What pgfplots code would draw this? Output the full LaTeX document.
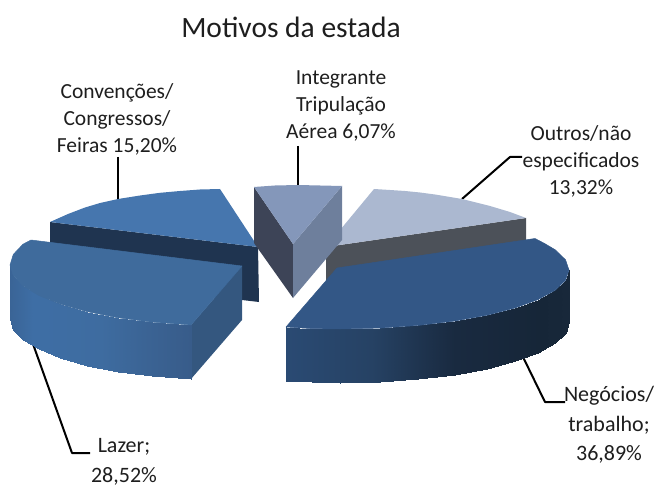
\documentclass[border=0pt]{standalone}
\usepackage{fontspec}
\setmainfont{Carlito}
\usepackage{pgfplots}
\pgfplotsset{compat=1.18}
\pgfplotsset{
  colormap={lazer}{rgb255(0)=(58,100,150) rgb255(1)=(62,110,165) rgb255(4)=(62,108,160) rgb255(8)=(56,92,138)},
  colormap={neg}{rgb255(0)=(42,74,115) rgb255(3)=(38,66,100) rgb255(6)=(25,42,64) rgb255(9)=(22,38,56) rgb255(10)=(24,40,58)}
}
\definecolor{txt}{RGB}{30,30,30}
\definecolor{cLaz}{RGB}{63,107,156}
\definecolor{cNeg}{RGB}{51,87,134}
\tikzset{lbl/.style={align=center, text=txt, font=\fontsize{21.5}{27}\selectfont, anchor=center},
 lblw/.style={align=center, text=txt, font=\fontsize{22}{29.5}\selectfont, anchor=center}}
\begin{document}
\begin{tikzpicture}
\begin{axis}[
  scale only axis, width=669pt, height=486pt,
  xmin=0, xmax=669, ymin=0, ymax=486, y dir=reverse,
  hide axis, clip=false,
  point meta min=0, point meta max=1,
  every axis plot/.append style={line join=round},
]
\addplot[draw=none, forget plot] coordinates {(0,0) (669,486)};
% leader lines
\addplot[black, line width=2pt] coordinates {(118,157) (118,200)};
\addplot[black, line width=2pt] coordinates {(298,146) (298,186)};
\addplot[black, line width=2pt] coordinates {(522,157) (510,157) (462,199)};
\addplot[black, line width=2pt] coordinates {(523,357) (545,402) (565,402)};
\addplot[black, line width=2pt] coordinates {(33,344) (72,453) (90,453)};
% Outros
\addplot[fill={rgb,255:red,76;green,81;blue,89}, draw=none] coordinates {(326,247) (526,218) (526,250) (326,300)} -- cycle;
\addplot[fill={rgb,255:red,171;green,184;blue,208}, draw=none] coordinates {(326,247) (374,189) (390,190) (405,191) (420,192.5) (435,194.5) (450,197) (462,199) (476,202.5) (490,206) (510,212) (526,218)} -- cycle;
% Convencoes
\addplot[fill={rgb,255:red,31;green,52;blue,80}, draw=none] coordinates {(50,222) (258,247) (259,302) (242,300) (50,280)} -- cycle;
\addplot[fill={rgb,255:red,70;green,118;blue,174}, draw=none] coordinates {(258,247) (220,189) (200,189.5) (180,191) (160,192.8) (140,195.5) (118,199) (100,203) (85,207.5) (68,214) (50,222)} -- cycle;
% Tripulacao
\addplot[fill={rgb,255:red,61;green,68;blue,87}, draw=none] coordinates {(254,187) (293,244) (293,298) (254,243)} -- cycle;
\addplot[fill={rgb,255:red,110;green,127;blue,156}, draw=none] coordinates {(342,186) (293,244) (293,298) (342,240)} -- cycle;
\addplot[fill={rgb,255:red,132;green,151;blue,186}, draw=none] coordinates {(254,187) (275,185.5) (298,185) (320,185.5) (342,186) (293,244)} -- cycle;
% Lazer
\addplot[fill={rgb,255:red,52;green,87;blue,127}, draw=none] coordinates {(191,325) (242,266) (242,320) (191,379)} -- cycle;
\addplot[patch, patch type=rectangle, shader=interp, colormap name=lazer, point meta=explicit] coordinates {
 (10,265)[0.0] (13.3,275.6)[0.02] (13.3,329.6)[0.02] (10,319)[0.0]
 (13.3,275.6)[0.02] (23,285.8)[0.07] (23,339.8)[0.07] (13.3,329.6)[0.02]
 (23,285.8)[0.07] (38.8,295.4)[0.16] (38.8,349.4)[0.16] (23,339.8)[0.07]
 (38.8,295.4)[0.16] (60.3,304.1)[0.28] (60.3,358.1)[0.28] (38.8,349.4)[0.16]
 (60.3,304.1)[0.28] (86.8,311.6)[0.42] (86.8,365.6)[0.42] (60.3,358.1)[0.28]
 (86.8,311.6)[0.42] (117.5,317.7)[0.6] (117.5,371.7)[0.6] (86.8,365.6)[0.42]
 (117.5,317.7)[0.6] (151.5,322.1)[0.8] (151.5,376.1)[0.8] (117.5,371.7)[0.6]
 (151.5,322.1)[0.8] (191,325)[1] (191,379)[1] (151.5,376.1)[0.8]
};
\addplot[fill=cLaz, draw=cLaz, line width=0.5pt] coordinates {(31,240) (242,266) (191,325) (151.5,322.1) (117.5,317.7) (86.8,311.6) (60.3,304.1) (38.8,295.4) (23,285.8) (13.3,275.6) (10,265) (13.3,254.4) (23,244.2)} -- cycle;
% Negocios
\addplot[patch, patch type=rectangle, shader=interp, colormap name=neg, point meta=explicit] coordinates {
 (286,327)[0.0] (312,328.6)[0.09] (312,382)[0.09] (286,381)[0.0]
 (312,328.6)[0.09] (340,329)[0.19] (340,383)[0.19] (312,382)[0.09]
 (340,329)[0.19] (379.8,328.1)[0.33] (379.8,381.5)[0.33] (340,383)[0.19]
 (379.8,328.1)[0.33] (418.3,325.4)[0.47] (418.3,379)[0.47] (379.8,381.5)[0.33]
 (418.3,325.4)[0.47] (454.5,321.1)[0.6] (454.5,374.5)[0.6] (418.3,379)[0.47]
 (454.5,321.1)[0.6] (487.2,315.2)[0.71] (487.2,368.5)[0.71] (454.5,374.5)[0.6]
 (487.2,315.2)[0.71] (515.4,307.9)[0.81] (515.4,361)[0.81] (487.2,368.5)[0.71]
 (515.4,307.9)[0.81] (538.3,299.5)[0.89] (538.3,352.5)[0.89] (515.4,361)[0.81]
 (538.3,299.5)[0.89] (555.2,290.2)[0.95] (555.2,342.5)[0.95] (538.3,352.5)[0.89]
 (555.2,290.2)[0.95] (565.5,280.2)[0.99] (565.5,332.5)[0.99] (555.2,342.5)[0.95]
 (565.5,280.2)[0.99] (569,270)[1] (569,322)[1] (565.5,332.5)[0.99]
};
\addplot[fill=cNeg, draw=cNeg, line width=0.5pt] coordinates {(286,327) (337,268) (535,238.5) (544,243.2) (555.2,249.8) (565.5,259.8) (569,270) (565.5,280.2) (555.2,290.2) (538.3,299.5) (515.4,307.9) (487.2,315.2) (454.5,321.1) (418.3,325.4) (379.8,328.1) (340,329) (312,328.6)} -- cycle;
% Text
\node[text=txt, font=\fontsize{29.5}{32}\selectfont, anchor=center] at (axis cs:291,27) {Motivos da estada};
\node[lbl] at (axis cs:117,119) {Convenções/\\Congressos/\\Feiras 15,20\%};
\node[lbl] at (axis cs:341,106) {Integrante\\Tripulação\\Aérea 6,07\%};
\node[lbl] at (axis cs:581,161) {Outros/não\\especificados\\13,32\%};
\node[lblw] at (axis cs:609,425) {Negócios/\\trabalho;\\36,89\%};
\node[lblw] at (axis cs:124,462) {Lazer;\\28,52\%};
\end{axis}
\end{tikzpicture}
\end{document}
